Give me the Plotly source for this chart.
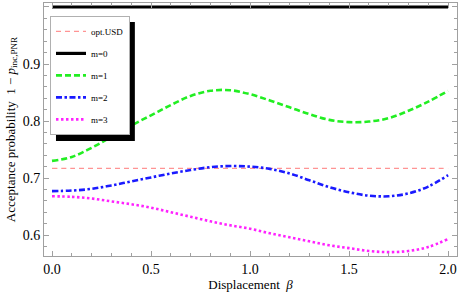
import plotly.graph_objects as go

beta = [0.0, 0.1, 0.2, 0.3, 0.4, 0.5, 0.6, 0.7, 0.8, 0.9, 1.0,
        1.1, 1.2, 1.3, 1.4, 1.5, 1.6, 1.7, 1.8, 1.9, 2.0]
opt_usd = [0.717] * len(beta)
m0 = [1.0] * len(beta)
m1 = [0.730, 0.737, 0.753, 0.772, 0.792, 0.810, 0.828, 0.844, 0.853, 0.854, 0.847,
      0.836, 0.824, 0.812, 0.802, 0.798, 0.799, 0.805, 0.818, 0.834, 0.853]
m2 = [0.677, 0.678, 0.681, 0.687, 0.694, 0.701, 0.708, 0.714, 0.719, 0.721, 0.720,
      0.716, 0.708, 0.696, 0.684, 0.675, 0.669, 0.668, 0.673, 0.685, 0.705]
m3 = [0.668, 0.667, 0.664, 0.659, 0.654, 0.648, 0.640, 0.632, 0.624, 0.617, 0.611,
      0.603, 0.596, 0.589, 0.582, 0.577, 0.572, 0.570, 0.572, 0.579, 0.593]

series = [
    ("opt.USD", opt_usd, "#ff9494", 1.2, "5px,4px"),
    ("m=0", m0, "black", 3.2, "solid"),
    ("m=1", m1, "#22ee22", 2.6, "6px,3px"),
    ("m=2", m2, "#1a1aff", 2.6, "6px,2.5px,2.5px,2.5px"),
    ("m=3", m3, "#ff22ff", 2.6, "2.5px,2.5px"),
]

fig = go.Figure()
for i, (name, ys, col, w, dash) in enumerate(series):
    fig.add_trace(go.Scatter(x=beta, y=ys, mode="lines", name=name,
                             legendgroup=str(i),
                             line=dict(color=col, width=w, dash=dash, shape="spline")))

font = "Liberation Serif, Times New Roman, serif"
axis_common = dict(
    showline=True, linecolor="#a0a0a0", linewidth=1, mirror="allticks",
    ticks="inside", ticklen=5, tickcolor="#a0a0a0", tickwidth=1,
    showgrid=False, zeroline=False,
    tickfont=dict(family=font, size=14, color="black"),
)
fig.update_xaxes(range=[-0.0404, 2.045], tick0=0, dtick=0.5, tickformat=".1f",
                 minor=dict(ticks="inside", ticklen=3, dtick=0.1, tickcolor="#a0a0a0"),
                 title=dict(text="Displacement  <i>β</i>", font=dict(family=font, size=13, color="black"),
                            standoff=4),
                 **axis_common)
fig.update_yaxes(range=[0.5632, 1.007], tick0=0.6, dtick=0.1, tickformat=".1f",
                 minor=dict(ticks="inside", ticklen=3, dtick=0.02, tickcolor="#a0a0a0"),
                 title=dict(text="Acceptance probability  1 − <i>p</i><sub>inc,PNR</sub>",
                            font=dict(family=font, size=13, color="black"), standoff=4),
                 **axis_common)

# drop shadow behind the legend box
fig.add_shape(type="rect", xref="paper", yref="paper",
              x0=0.029, x1=0.220, y0=0.455, y1=0.925,
              fillcolor="black", line=dict(width=0), layer="above")

fig.update_layout(
    width=458, height=299,
    margin=dict(l=44, r=1, t=3, b=43),
    paper_bgcolor="white", plot_bgcolor="white",
    showlegend=True,
    legend=dict(x=0.0145, y=0.949, xanchor="left", yanchor="top",
                bgcolor="white", bordercolor="#b0b0b0", borderwidth=1,
                font=dict(family=font, size=9, color="black"),
                tracegroupgap=3, itemwidth=30),
)

fig.write_html("out.html", config={"displayModeBar": False},
               post_script="document.body.style.margin='0';document.body.style.overflow='hidden';")
